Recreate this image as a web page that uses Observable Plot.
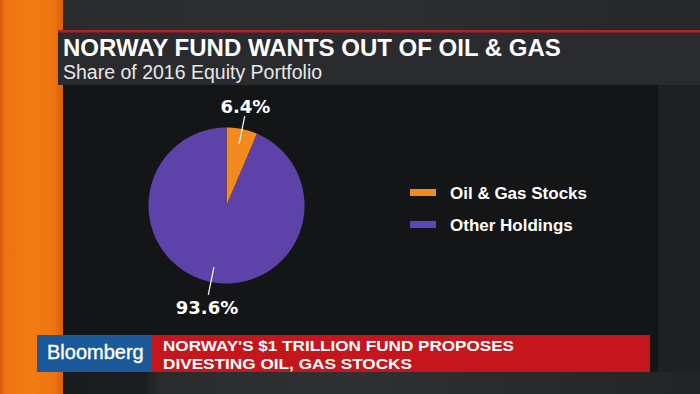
<!DOCTYPE html>
<html>
<head>
<meta charset="utf-8">
<script src="https://cdn.jsdelivr.net/npm/d3@7"></script>
<script src="https://cdn.jsdelivr.net/npm/@observablehq/plot@0.6"></script>
<style>
  html, body { margin: 0; padding: 0; background: #141517; }
  #wrap { position: relative; width: 700px; height: 394px; overflow: hidden; font-family: "Liberation Sans", Arial, sans-serif; }
  #bg, #chart { position: absolute; left: 0; top: 0; }
</style>
</head>
<body>
<div id="wrap">
<svg id="bg" width="700" height="394" xmlns="http://www.w3.org/2000/svg">
  <defs>
    <linearGradient id="orange" x1="0" x2="1" y1="0" y2="0">
      <stop offset="0" stop-color="#d9520b"/>
      <stop offset="0.07" stop-color="#ef7211"/>
      <stop offset="0.5" stop-color="#f27c14"/>
      <stop offset="0.86" stop-color="#ee7311"/>
      <stop offset="1" stop-color="#d65f0d"/>
    </linearGradient>
    <linearGradient id="bottom" x1="0" x2="1" y1="0" y2="0">
      <stop offset="0" stop-color="#1a1b1d"/>
      <stop offset="0.13" stop-color="#1c1d1f"/>
      <stop offset="0.15" stop-color="#2a2b2d"/>
      <stop offset="0.45" stop-color="#2f3032"/>
      <stop offset="1" stop-color="#232426"/>
    </linearGradient>
    <linearGradient id="top" x1="0" x2="1" y1="0" y2="0">
      <stop offset="0" stop-color="#2a2b2d"/>
      <stop offset="0.5" stop-color="#2d2e30"/>
      <stop offset="1" stop-color="#262729"/>
    </linearGradient>
  </defs>
  <rect x="0" y="0" width="700" height="394" fill="#1a1b1d"/>
  <rect x="0" y="0" width="700" height="31" fill="url(#top)"/>
  <rect x="658" y="85" width="42" height="309" fill="#1f2022"/>
  <rect x="63" y="85" width="595" height="287" fill="#141517"/>
  <rect x="63" y="372" width="637" height="22" fill="url(#bottom)"/>
  <rect x="0" y="0" width="63" height="394" fill="url(#orange)"/>
  <rect x="58" y="30" width="642" height="55" fill="#2a2b2e"/>
  <rect x="58" y="30" width="642" height="2.5" fill="#b41f2a"/>
  <text x="63" y="56" font-size="24" font-weight="bold" fill="#ffffff">NORWAY FUND WANTS OUT OF OIL &amp; GAS</text>
  <text x="63" y="79" font-size="19.5" fill="#e8e8e8">Share of 2016 Equity Portfolio</text>

  <g id="legend"></g>

  <rect x="37" y="335" width="115" height="37" fill="#1b5a9a"/>
  <rect x="152" y="335" width="498" height="37" fill="#c5161d"/>
  <text x="47" y="359" font-size="20" fill="#ffffff" stroke="#ffffff" stroke-width="0.35">Bloomberg</text>
  <text x="163" y="350.5" font-size="15.5" font-weight="bold" fill="#ffffff" textLength="351" lengthAdjust="spacingAndGlyphs">NORWAY'S $1 TRILLION FUND PROPOSES</text>
  <text x="163" y="368.5" font-size="15.5" font-weight="bold" fill="#ffffff" textLength="249" lengthAdjust="spacingAndGlyphs">DIVESTING OIL, GAS STOCKS</text>
</svg>
<div id="chart"></div>
</div>
<script>
// ---- data ----
const categories = ["Oil & Gas Stocks", "Other Holdings"];
const shares = [6.4, 93.6];
const shareLabels = ["6.4%", "93.6%"];
const sliceColors = ["#f38a1f", "#5c42a9"];
const legendColors = ["#f38a1f", "#5a48b6"];

// ---- legend (drawn in the background svg) ----
const legend = d3.select("#legend");
categories.forEach((c, i) => {
  const y0 = 189 + i * 32;
  legend.append("rect").attr("x", 410).attr("y", y0).attr("width", 26).attr("height", 7).attr("fill", legendColors[i]);
  legend.append("text").attr("x", 450).attr("y", y0 + 9.5).attr("font-size", 17).attr("font-weight", "bold")
    .attr("fill", "#ffffff").text(c);
});

// ---- pie geometry from the data ----
const arcs = d3.pie().sort(null).value(d => d)(shares);
const polys = arcs.flatMap((a, i) => {
  const n = Math.max(2, Math.ceil((a.endAngle - a.startAngle) / (Math.PI / 180)));
  const pts = [{x: 0, y: 0, c: categories[i]}];
  for (let k = 0; k <= n; k++) {
    const t = a.startAngle + (a.endAngle - a.startAngle) * k / n;
    pts.push({x: Math.sin(t), y: Math.cos(t), c: categories[i]});
  }
  pts.push({x: 0, y: 0, c: categories[i]});
  return pts;
});
const labels = arcs.map((a, i) => {
  const m = (a.startAngle + a.endAngle) / 2;
  const up = Math.cos(m) >= 0;
  const lr = up ? 1.21 : 1.25;
  return {
    text: shareLabels[i],
    x1: 0.81 * Math.sin(m), y1: 0.81 * Math.cos(m),
    x2: 1.17 * Math.sin(m), y2: 1.17 * Math.cos(m),
    lx: lr * Math.sin(m), ly: lr * Math.cos(m),
    upper: up
  };
});

const textOpts = {
  x: "lx", y: "ly", text: "text", fill: "#ffffff", fontSize: 18, fontWeight: "bold",
  fontFamily: "DejaVu Sans, sans-serif"
};

const chart = Plot.plot({
  width: 700,
  height: 394,
  margin: 0,
  style: {background: "transparent", overflow: "visible"},
  x: {domain: [-1, 1], range: [148, 304], axis: null},
  y: {domain: [-1, 1], range: [283, 127], axis: null},
  color: {domain: categories, range: sliceColors},
  marks: [
    Plot.line(polys, {x: "x", y: "y", z: "c", fill: "c", stroke: "none", curve: "linear"}),
    Plot.link(labels, {x1: "x1", y1: "y1", x2: "x2", y2: "y2", stroke: "#ffffff", strokeWidth: 1.2}),
    Plot.text(labels.filter(d => d.upper), {...textOpts, lineAnchor: "bottom"}),
    Plot.text(labels.filter(d => !d.upper), {...textOpts, lineAnchor: "top"})
  ]
});
document.getElementById("chart").appendChild(chart);
</script>
</body>
</html>
